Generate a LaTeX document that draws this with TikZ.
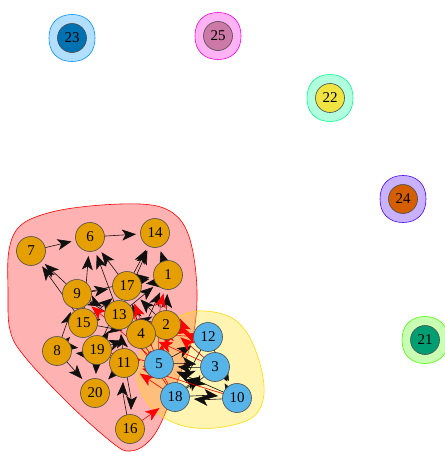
\documentclass[tikz,border=0pt]{standalone}
\usepackage{fontspec}
\setmainfont{Liberation Serif}
\usetikzlibrary{arrows.meta}
\pgfdeclarelayer{halo}
\pgfdeclarelayer{edges}
\pgfsetlayers{halo,edges,main}
\definecolor{corange}{HTML}{E69F00}
\definecolor{csky}{HTML}{56B4E9}
\definecolor{cgreen}{HTML}{009E73}
\definecolor{cyell}{HTML}{F0E442}
\definecolor{cblue}{HTML}{0072B2}
\definecolor{cverm}{HTML}{D55E00}
\definecolor{cpink}{HTML}{CC79A7}
\definecolor{hred}{HTML}{FF0000}
\definecolor{hyellow}{HTML}{FFDB00}
\definecolor{hgreen}{HTML}{49FF00}
\definecolor{hmint}{HTML}{00FF92}
\definecolor{hazure}{HTML}{0092FF}
\definecolor{hviolet}{HTML}{4900FF}
\definecolor{hmag}{HTML}{FF00DB}
\definecolor{edgec}{HTML}{101010}
\tikzset{
  vert/.style={circle, draw=black!70, line width=0.6pt, minimum size=29pt, inner sep=0pt,
    font=\fontsize{15}{15}\selectfont},
  ie/.style={draw=edgec, line width=0.6pt, -{Stealth[length=14pt,width=11pt,inset=3.5pt]}, shorten >=19pt},
  xe/.style={draw=red, line width=0.6pt, -{Stealth[length=14pt,width=11pt,inset=3.5pt]}, shorten >=19pt},
  hull/.style={line width=0.6pt, fill opacity=0.3, draw opacity=1},
}
\newcommand\soloblob[3]{% center x, y, colour
  \draw[hull, draw=#3, fill=#3, shift={(#1,#2)}] plot[smooth cycle, tension=0.7]
    coordinates {(23,0) (17,-17) (0,-23.5) (-17,-17) (-23,0) (-17,17) (0,23.5) (17,17)};}
\begin{document}
\begin{tikzpicture}[x=1pt,y=-1pt]
\useasboundingbox (0,0) rectangle (444,452);
% nodes
\node[vert, fill=corange] (n1) at (168,275) {1};
\node[vert, fill=corange] (n2) at (166,325) {2};
\node[vert, fill=csky] (n3) at (215,367) {3};
\node[vert, fill=corange] (n4) at (141,334) {4};
\node[vert, fill=csky] (n5) at (159,364) {5};
\node[vert, fill=corange] (n6) at (90,237) {6};
\node[vert, fill=corange] (n7) at (31,251) {7};
\node[vert, fill=corange] (n8) at (57,351) {8};
\node[vert, fill=corange] (n9) at (77,294) {9};
\node[vert, fill=csky] (n10) at (237,398) {10};
\node[vert, fill=corange] (n11) at (124,363) {11};
\node[vert, fill=csky] (n12) at (208,337) {12};
\node[vert, fill=corange] (n13) at (119,315) {13};
\node[vert, fill=corange] (n14) at (155,233) {14};
\node[vert, fill=corange] (n15) at (83,323) {15};
\node[vert, fill=corange] (n16) at (130,429) {16};
\node[vert, fill=corange] (n17) at (127,286) {17};
\node[vert, fill=csky] (n18) at (175,397) {18};
\node[vert, fill=corange] (n19) at (97,350) {19};
\node[vert, fill=corange] (n20) at (95,393) {20};
\node[vert, fill=cgreen] (n21) at (425,340) {21};
\node[vert, fill=cyell] (n22) at (330,98) {22};
\node[vert, fill=cblue] (n23) at (72,38) {23};
\node[vert, fill=cverm] (n24) at (403,199) {24};
\node[vert, fill=cpink] (n25) at (218,36) {25};
% group hulls
\begin{pgfonlayer}{halo}
\draw[hull, draw=hred, fill=hred] plot[smooth cycle, tension=0.6] coordinates {(9,250) (20,226) (48,213) (90,206) (140,204) (168,210) (185,227) (194,258) (197,300) (192,340) (176,385) (160,425) (146,444) (130,451) (114,444) (70,405) (25,357) (10,330) (8,290)};
\draw[hull, draw=hyellow, fill=hyellow] plot[smooth cycle, tension=0.6] coordinates {(205,311) (232,318) (250,338) (262,372) (263,400) (250,419) (215,428) (180,425) (152,408) (138,382) (140,355) (158,330) (182,315)};
\soloblob{425}{340}{hgreen}
\soloblob{330}{98}{hmint}
\soloblob{72}{38}{hazure}
\soloblob{403}{199}{hviolet}
\soloblob{218}{36}{hmag}
\end{pgfonlayer}
% edges
\begin{pgfonlayer}{edges}
\foreach \a/\b in {7/6, 6/14, 9/7, 15/7, 13/6, 17/6, 15/6, 17/14, 1/14, 13/14,
  9/17, 9/1, 13/1, 4/1, 2/1, 4/17, 2/17, 15/13, 19/13, 9/13, 19/4, 11/4,
  2/13, 8/15, 19/15, 8/9, 11/20, 19/20, 8/20, 11/19, 11/13, 15/4, 9/4, 15/17, 19/17}
  \draw[ie] (n\a.center) -- (n\b.center);
\foreach \a/\b in {1/17, 17/1, 4/13, 13/4, 2/4, 4/2, 9/15, 15/9, 8/19, 19/8, 11/16, 16/11}
  \draw[ie] (n\a.center) to[bend left=8] (n\b.center);
\foreach \a/\b in {5/12, 12/3, 18/3, 10/5, 12/18, 12/10}
  \draw[ie] (n\a.center) -- (n\b.center);
\foreach \a/\b in {5/3, 3/5, 3/18, 18/3, 3/10, 10/3, 18/10, 10/18}
  \draw[ie] (n\a.center) to[bend left=5] (n\b.center);
\foreach \a/\b in {5/2, 5/13, 5/19, 18/11, 16/18, 12/4, 3/4, 3/2, 18/4, 13/12, 5/17, 18/13, 19/5, 10/11, 5/9}
  \draw[xe] (n\a.center) -- (n\b.center);
\foreach \a/\b in {5/4, 4/5, 5/11, 11/5, 2/12, 12/2, 2/5, 5/1}
  \draw[xe] (n\a.center) to[bend left=8] (n\b.center);
\end{pgfonlayer}
\end{tikzpicture}
\end{document}
